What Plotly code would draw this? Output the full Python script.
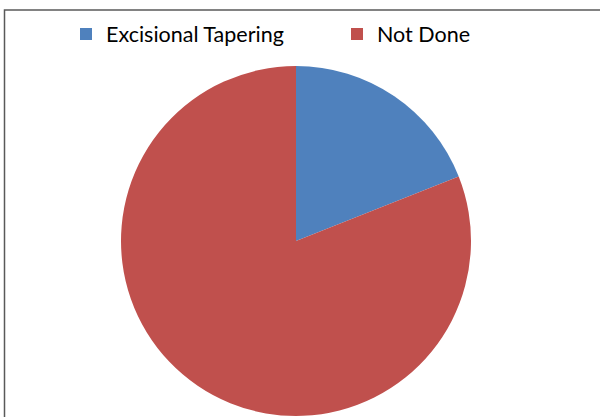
import plotly.graph_objects as go

# Share of cases with and without excisional tapering
labels = ["Excisional Tapering", "Not Done"]
values = [19, 81]
colors = ["#4F81BD", "#C0504D"]

W, H = 600, 417

fig = go.Figure(
    go.Pie(
        labels=labels,
        values=values,
        marker=dict(colors=colors, line=dict(width=0)),
        sort=False,
        direction="clockwise",
        rotation=0,
        textinfo="none",
        hoverinfo="label+percent",
        domain=dict(x=[121 / W, 471 / W], y=[1 / H, (H - 66) / H]),
    )
)

# Chart-area frame
fig.add_shape(
    type="rect", xref="paper", yref="paper",
    x0=4.5 / W, x1=1.02, y0=-0.02, y1=(H - 10) / H,
    line=dict(color="#595959", width=1.5),
    fillcolor="rgba(0,0,0,0)",
)

fig.update_layout(
    width=W, height=H,
    margin=dict(l=0, r=0, t=0, b=0, autoexpand=False),
    paper_bgcolor="white",
    plot_bgcolor="white",
    font=dict(family="Lato, Liberation Sans, sans-serif", color="black"),
    showlegend=True,
    legend=dict(
        orientation="h",
        x=66 / W, xanchor="left",
        y=(H - 34) / H, yanchor="middle",
        font=dict(size=21.5, color="black"),
        entrywidth=226, entrywidthmode="pixels",
        itemclick=False, itemdoubleclick=False,
        bgcolor="rgba(0,0,0,0)",
    ),
)

fig.write_html("out.html")
